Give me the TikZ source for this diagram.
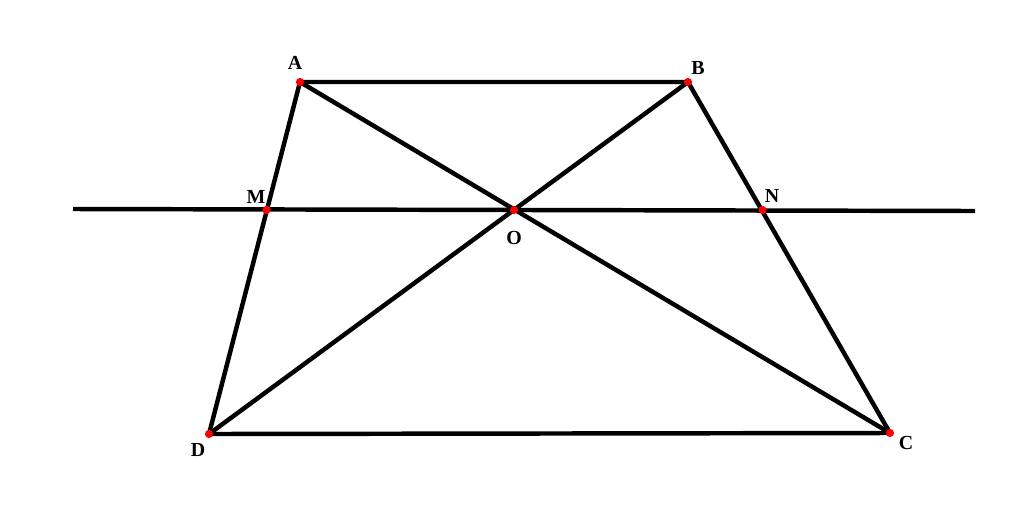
\documentclass[tikz,border=0pt]{standalone}
\usepackage{fontspec}
\setmainfont{Liberation Serif}
\begin{document}
\begin{tikzpicture}[x=0.03cm,y=-0.03cm,
  seg/.style={line width=3.8pt},
  pt/.style={circle,fill=red,inner sep=0pt,minimum size=7pt},
  lbl/.style={font=\fontsize{17}{19}\selectfont\bfseries,inner sep=0pt}]
\useasboundingbox (0,0) rectangle (1024,519);
\coordinate (A) at (300,82);
\coordinate (B) at (688,82);
\coordinate (C) at (890,433);
\coordinate (D) at (209,434);
\coordinate (O) at (514,210);
\coordinate (M) at (266.5,210);
\coordinate (N) at (762.5,210);
\coordinate (L) at (73,209);
\coordinate (R) at (975,211);
\draw[seg,line cap=butt] (L) -- (R);
\draw[seg,line cap=round,line join=round] (A) -- (B) -- (C) -- (D) -- cycle;
\draw[seg,line cap=round] (A) -- (C);
\draw[seg,line cap=round] (B) -- (D);
\foreach \p in {A,B,C,D,O,M,N} \node[pt] at (\p) {};
\node[lbl] (lA) at (295,63) {A};
\node[lbl] (lB) at (698,68) {B};
\node[lbl] (lM) at (256,197) {M};
\node[lbl] (lO) at (514,238) {O};
\node[lbl] (lN) at (772,196) {N};
\node[lbl] (lD) at (198,450) {D};
\node[lbl] (lC) at (906,443) {C};
\end{tikzpicture}
\end{document}
